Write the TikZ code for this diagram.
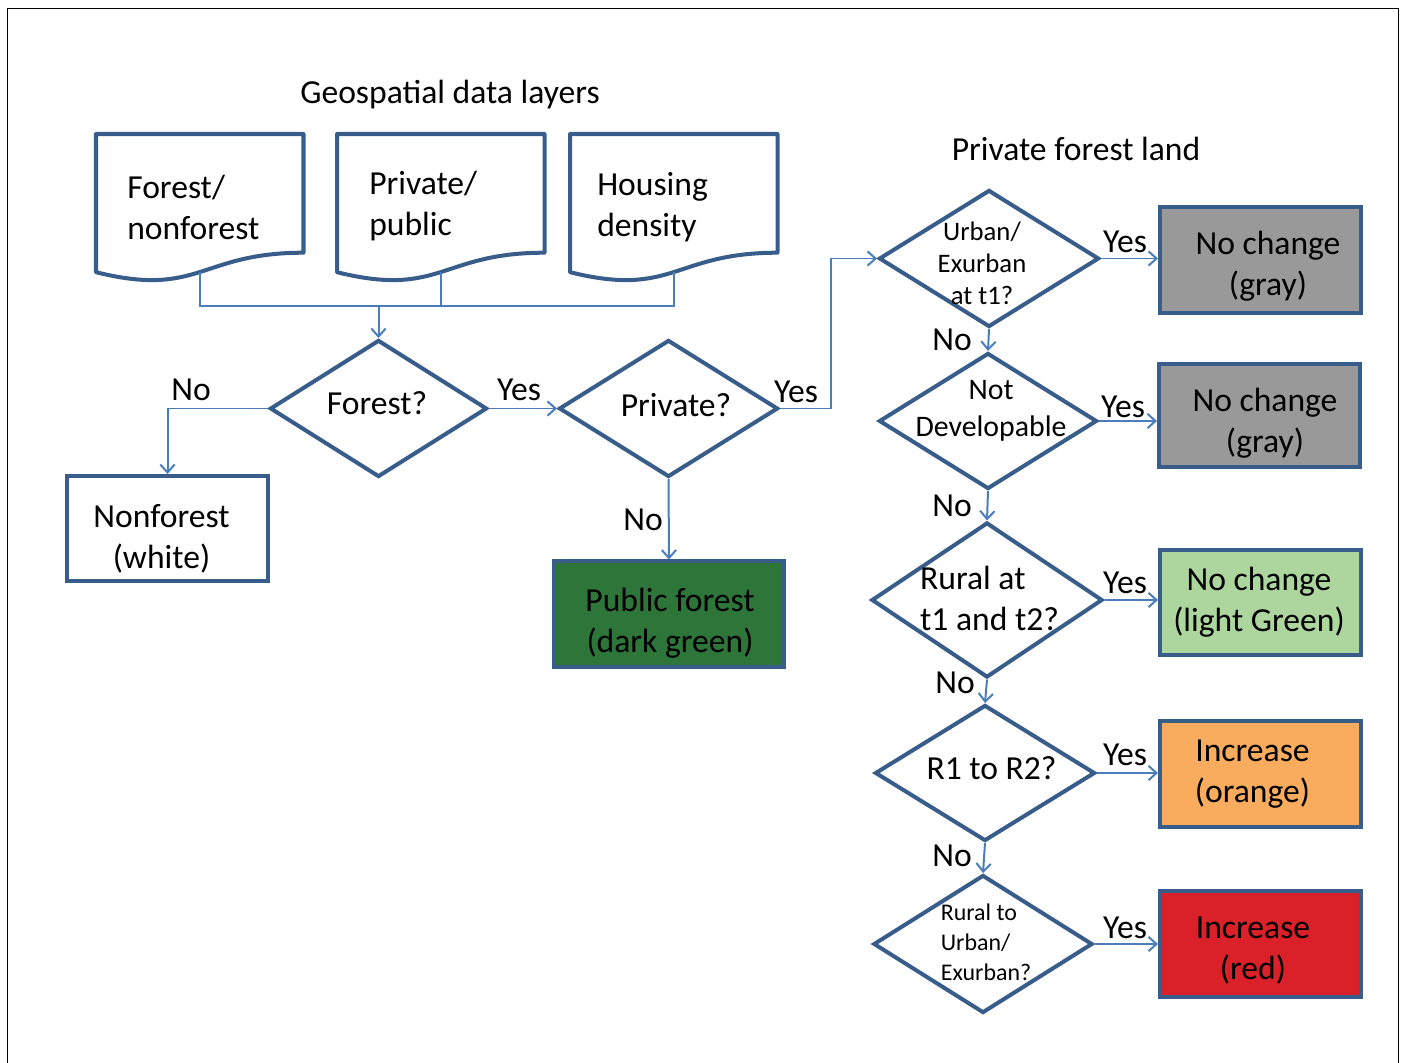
\documentclass[tikz,border=0pt]{standalone}
\usepackage{fontspec}
\setmainfont{Carlito}
\usetikzlibrary{shapes.geometric, arrows.meta}
\definecolor{frameblue}{RGB}{56,93,138}
\definecolor{linkblue}{RGB}{74,126,187}
\definecolor{boxgray}{RGB}{153,153,153}
\definecolor{lightgreen}{RGB}{172,214,158}
\definecolor{boxorange}{RGB}{250,172,94}
\definecolor{boxred}{RGB}{218,32,40}
\definecolor{darkgreen}{RGB}{45,117,56}

\begin{document}
\begin{tikzpicture}[x=0.025cm, y=-0.025cm, >={Straight Barb[length=0.2cm, width=0.36cm]},
  font=\fontsize{23.9}{29.2}\selectfont,
  decision/.style={diamond, draw=frameblue, line width=2.85pt, fill=white, inner sep=0pt,
    minimum width=5.475cm, minimum height=3.425cm},
  result/.style={rectangle, draw=frameblue, line width=2.85pt, inner sep=0pt,
    minimum width=5.025cm, minimum height=2.625cm},
  docline/.style={draw=frameblue, line width=2.85pt, line join=round},
  link/.style={draw=linkblue, line width=1.42pt},
  answer/.style={inner sep=0pt}]
  \useasboundingbox (0,0) rectangle (1401,1063);
  % frame
  \draw[line width=1.1pt] (7.5,1063) -- (7.5,8.5) -- (1398.5,8.5) -- (1398.5,1063);
  % titles
  \node (geotitle) at (450,95) {Geospatial data layers};
  \node (privtitle) at (1076,149) {Private forest land};
  % data layers
  \foreach \x/\n in {96/fnf, 337/pp, 570/hd} {
    \draw[docline] (\x,134) -- (\x+207.5,134) -- (\x+207.5,252.7)
      .. controls (\x+103.75,252.7) and (\x+103.75,297.9) .. (\x,272.2) -- cycle;
    \coordinate (\n-b) at (\x+103.75,272.1);
  }
  \node[align=left, anchor=west, inner sep=0pt] (fnftext) at (127,207.5) {Forest/\\nonforest};
  \node[align=left, anchor=west, inner sep=0pt] (pptext) at (369,206) {Private/\\public};
  \node[align=left, anchor=west, inner sep=0pt] (hdtext) at (597,207) {Housing\\density};
  \coordinate (join) at (378.5,306);
  % decisions
  \node[decision, minimum width=5.425cm, label={[shift={(-1.5,-5.5)}]center:Forest?}] (forest) at (378.5,408.5) {};
  \node[decision, label={[shift={(7.5,-3.5)}]center:Private?}] (priv) at (668.5,408.5) {};
  \node[decision, minimum width=5.5cm, label={[shift={(-7,4.5)}, align=center,
    font=\fontsize{19}{22.7}\selectfont]center:Urban/\\Exurban\\at t1?}] (urban) at (989,258.5) {};
  \node[decision, minimum width=5.45cm, minimum height=3.4cm, label={[shift={(3,-10.5)}, align=center,
    font=\fontsize{21.2}{26.3}\selectfont]center:Not\\Developable}] (notdev) at (988,421) {};
  \node[decision, minimum width=5.775cm, minimum height=3.875cm, label={[shift={(2.5,-2)}, align=left]center:Rural at\\t1 and t2?}] (rural) at (987,600) {};
  \node[decision, minimum width=5.5cm, minimum height=3.4cm, label={[shift={(6.5,-5)}]center:R1 to R2?}] (rtor) at (985,773) {};
  \node[decision, minimum height=3.45cm, label={[shift={(3,-2)}, align=left,
    font=\fontsize{17}{21.3}\selectfont]center:Rural to\\Urban/\\Exurban?}] (tourban) at (983,944) {};
  % results
  \node[result, fill=white, label={[shift={(-6,10.5)}, align=center]center:Nonforest\\(white)}] (nonf) at (167.5,528.5) {};
  \node[result, fill=darkgreen, minimum width=5.75cm, label={[shift={(1,9.5)}, align=center]center:Public forest\\(dark green)}] (pubf) at (669,614) {};
  \node[result, fill=boxgray, label={[shift={(7.5,6)}, align=center]center:No change\\(gray)}] (same1) at (1260.5,260) {};
  \node[result, fill=boxgray, minimum height=2.575cm, label={[shift={(5.5,8)}, align=center]center:No change\\(gray)}] (same2) at (1259.5,415.5) {};
  \node[result, fill=lightgreen, label={[shift={(-1.5,0)}, align=center]center:No change\\(light Green)}] (same3) at (1260.5,602.5) {};
  \node[result, fill=boxorange, label={[shift={(-8,0.5)}, align=center]center:Increase\\(orange)}] (incr1) at (1260.5,774) {};
  \node[result, fill=boxred, label={[shift={(-7.5,6.5)}, align=center]center:Increase\\(red)}] (incr2) at (1260.5,944) {};
  % connectors
  \draw[link] (fnf-b) |- (join) -| (hd-b);
  \draw[link] (pp-b) -- (pp-b |- join);
  \draw[link, ->] (join) -- (forest.north);
  \draw[link, ->] (forest.west) -| (nonf.north);
  \draw[link, ->] (forest.east) -- (priv.west);
  \draw[link, ->] (priv.east) -- ++(51,0) |- (urban.west);
  \draw[link, ->] (priv.south) -- (pubf.north);
  \draw[link, ->] (urban.east) -- (urban.east -| same1.west);
  \draw[link, ->] (notdev.east) -- (notdev.east -| same2.west);
  \draw[link, ->] (rural.east) -- (rural.east -| same3.west);
  \draw[link, ->] (rtor.east) -- (rtor.east -| incr1.west);
  \draw[link, ->] (tourban.east) -- (tourban.east -| incr2.west);
  \draw[link, ->] (urban.south) -- (notdev.north);
  \draw[link, ->] (notdev.south) -- (rural.north);
  \draw[link, ->] (rural.south) -- (rtor.north);
  \draw[link, ->] (rtor.south) -- (tourban.north);
  % yes / no
  \foreach \t/\x/\y/\n in {No/191/390/no1, Yes/519/390/yes1, Yes/796/392/yes2, No/643/520/no2,
    Yes/1125/242/yes3, No/952/340/no3, Yes/1123/407/yes4, No/952/506/no4, Yes/1125/583/yes5,
    No/955/683/no5, Yes/1125/755/yes6, No/952/856/no6, Yes/1125/928/yes7}
    \node[answer] (\n) at (\x,\y) {\t};
\end{tikzpicture}
\end{document}
